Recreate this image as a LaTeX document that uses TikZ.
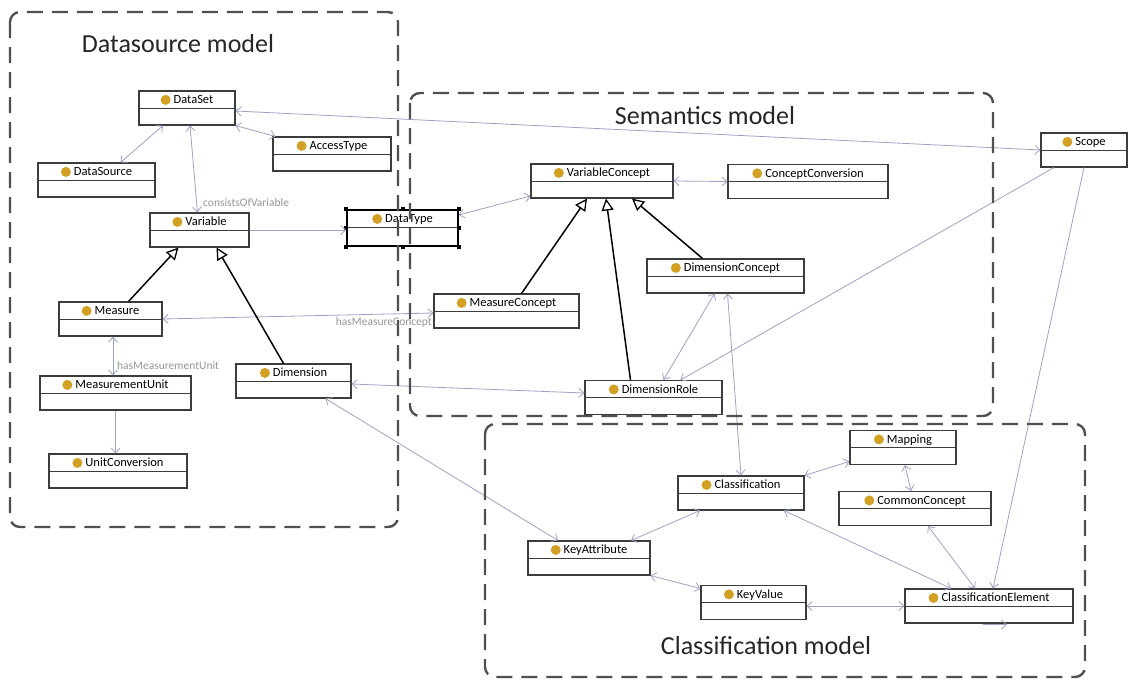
\documentclass[tikz,border=0pt]{standalone}
\usepackage{fontspec}
\setmainfont{Carlito}
\usetikzlibrary{arrows.meta}
\definecolor{edgec}{RGB}{158,162,196}
\definecolor{boxc}{RGB}{60,60,60}
\definecolor{dashc}{RGB}{80,80,80}
\definecolor{dotc}{RGB}{210,160,35}
\definecolor{lblc}{RGB}{150,150,150}
\newcommand{\umldot}{\tikz[baseline={(0pt,-3.6pt)}]\fill[dotc] (0pt,0pt) circle[radius=5pt];\hspace{3pt}}
\tikzset{
  cls/.style={draw=boxc, line width=1.1pt, fill=white, inner xsep=2pt, inner ysep=0pt,
    text height=12.5pt, text depth=21.5pt, font=\fontsize{12.5}{14}\selectfont,
    path picture={\draw[boxc, line width=1pt]
      ([yshift=-17pt]path picture bounding box.north west) --
      ([yshift=-17pt]path picture bounding box.north east);}},
  selcls/.style={cls, draw=black, line width=1.5pt, text depth=23.5pt},
  assoc/.style={draw=edgec, line width=0.8pt},
  both/.style={assoc, {Straight Barb[length=5pt,width=9pt]}-{Straight Barb[length=5pt,width=9pt]}},
  oneway/.style={assoc, -{Straight Barb[length=5pt,width=9pt]}},
  gen/.style={draw=black, line width=1.5pt, -{Triangle[open, length=12pt, width=12pt, line width=1.3pt]}},
  region/.style={draw=dashc, line width=2.4pt, dash pattern=on 16pt off 9pt, rounded corners=10pt},
  title/.style={font=\fontsize{26}{30}\selectfont, text=black!85, inner sep=0pt},
  lbl/.style={font=\fontsize{11.5}{13}\selectfont, text=lblc, inner sep=0pt},
}
\begin{document}
\begin{tikzpicture}[x=1pt,y=-1pt]
\useasboundingbox[fill=white] (0,0) rectangle (1128,681);

% titles
\node[title] (tds) at (178,44) {Datasource model};
\node[title] (tsem) at (705,116) {Semantics model};
\node[title] (tcls) at (766,646) {Classification model};

% Datasource model classes
\node[cls, minimum width=96pt] (dataset) at (187,108) {\umldot DataSet};
\node[cls, minimum width=118pt] (accesstype) at (332,154) {\umldot AccessType};
\node[cls, minimum width=117pt] (datasource) at (96.5,180) {\umldot DataSource};
\node[cls, minimum width=99pt] (variable) at (199.5,230) {\umldot Variable};
\node[selcls, minimum width=111pt] (datatype) at (402.5,228) {\umldot DataType};
\node[cls, minimum width=103pt] (measure) at (110.5,319) {\umldot Measure};
\node[cls, minimum width=151pt] (munit) at (115.5,393) {\umldot MeasurementUnit};
\node[cls, minimum width=138pt] (uconv) at (118,471) {\umldot UnitConversion};
\node[cls, minimum width=115pt] (dimension) at (293.5,381) {\umldot Dimension};

% Semantics model classes
\node[cls, minimum width=142pt] (varconcept) at (602,181) {\umldot VariableConcept};
\node[cls, minimum width=160pt] (cconv) at (808,181.5) {\umldot ConceptConversion};
\node[cls, minimum width=86pt] (scope) at (1084,150) {\umldot Scope};
\node[cls, minimum width=157pt] (dimconcept) at (725.5,276) {\umldot DimensionConcept};
\node[cls, minimum width=145pt] (measconcept) at (506.5,311) {\umldot MeasureConcept};
\node[cls, minimum width=137pt] (dimrole) at (653.5,397.5) {\umldot DimensionRole};

% Classification model classes
\node[cls, minimum width=126pt] (classification) at (741,493) {\umldot Classification};
\node[cls, minimum width=122pt] (keyattr) at (589,558) {\umldot KeyAttribute};
\node[cls, minimum width=105pt] (keyvalue) at (753.5,602.5) {\umldot KeyValue};
\node[cls, minimum width=106pt] (mapping) at (903,447.5) {\umldot Mapping};
\node[cls, minimum width=152pt] (commonconcept) at (915,508.5) {\umldot CommonConcept};
\node[cls, minimum width=168pt] (classelem) at (989,606) {\umldot ClassificationElement};

% selection handles of DataType
\foreach \a in {north west,north,north east,west,east,south west,south,south east}
  \fill[black] ([xshift=-2pt,yshift=-2pt]datatype.\a) rectangle ([xshift=2pt,yshift=2pt]datatype.\a);

% associations
\draw[both] ([xshift=-24pt]dataset.south) -- ([xshift=24pt]datasource.north);
\draw[both] ([xshift=3pt]dataset.south) -- ([xshift=-2pt]variable.north);
\node[lbl, anchor=west] (lcov) at (203,203) {consistsOfVariable};
\draw[both] (dataset.south east) -- ([xshift=3pt]accesstype.north west);
\draw[both] ([yshift=-3pt]dataset.east) -- (scope.west);
\draw[oneway] (variable.east) -- (variable.east -| datatype.west);
\draw[both] ([yshift=13pt]datatype.east) -- ([yshift=-15pt]varconcept.west);
\draw[both] (varconcept.east) -- (cconv.west);
\draw[both] ([yshift=-2pt]measconcept.west) -- (measure.east);
\node[lbl, anchor=east] (lhmc) at (432,322) {hasMeasureConcept};
\draw[both] ([xshift=2.5pt]measure.south) -- ([xshift=-2.5pt]munit.north);
\node[lbl, anchor=west] (lhmu) at (117,366) {hasMeasurementUnit};
\draw[oneway] (munit.south) -- (munit.south |- uconv.north);
\draw[both] ([yshift=-3pt]dimension.east) -- ([yshift=4.5pt]dimrole.west);
\draw[both] ([xshift=32pt]dimension.south) -- ([xshift=-31pt]keyattr.north);
\draw[both] ([xshift=-11pt]dimconcept.south) -- ([xshift=10pt]dimrole.north);
\draw[oneway] ([xshift=-30pt]scope.south) -- ([xshift=27pt]dimrole.north);
\draw[both] ([xshift=2pt]dimconcept.south) -- (classification.north);
\draw[oneway] (scope.south) -- ([xshift=4pt]classelem.north);
\draw[both] (classification.north east) -- ([yshift=-14pt]mapping.west);
\draw[both] ([xshift=2pt]mapping.south) -- ([xshift=-4pt]commonconcept.north);
\draw[both] ([xshift=-41pt]classification.south) -- ([xshift=42pt]keyattr.north);
\draw[both] ([xshift=43pt]classification.south) -- ([xshift=-38pt]classelem.north);
\draw[both] ([xshift=13pt]commonconcept.south) -- ([xshift=-14pt]classelem.north);
\draw[both] (keyattr.south east) -- ([yshift=14pt]keyvalue.west);
\draw[both] (keyvalue.east |- classelem.west) -- (classelem.west);
\coordinate (ce1) at ([xshift=-6pt,yshift=-1pt]classelem.south);
\coordinate (ce2) at ([xshift=18pt,yshift=-1pt]classelem.south);
\draw[oneway] (ce1) -- (ce2);

% generalizations
\draw[gen] ([xshift=18pt]measure.north) -- ([xshift=-21pt]variable.south);
\draw[gen] ([xshift=-10pt]dimension.north) -- ([xshift=17pt]variable.south);
\draw[gen] ([xshift=15pt]measconcept.north) -- ([xshift=-15pt]varconcept.south);
\draw[gen] ([xshift=-23pt]dimrole.north) -- ([xshift=4pt]varconcept.south);
\draw[gen] ([xshift=-23pt]dimconcept.north) -- ([xshift=30pt]varconcept.south);

% model regions
\draw[region] (10,12) rectangle (398,527);
\draw[region] (410,93) rectangle (993,416);
\draw[region] (485,424) rectangle (1085,677);
\end{tikzpicture}
\end{document}
